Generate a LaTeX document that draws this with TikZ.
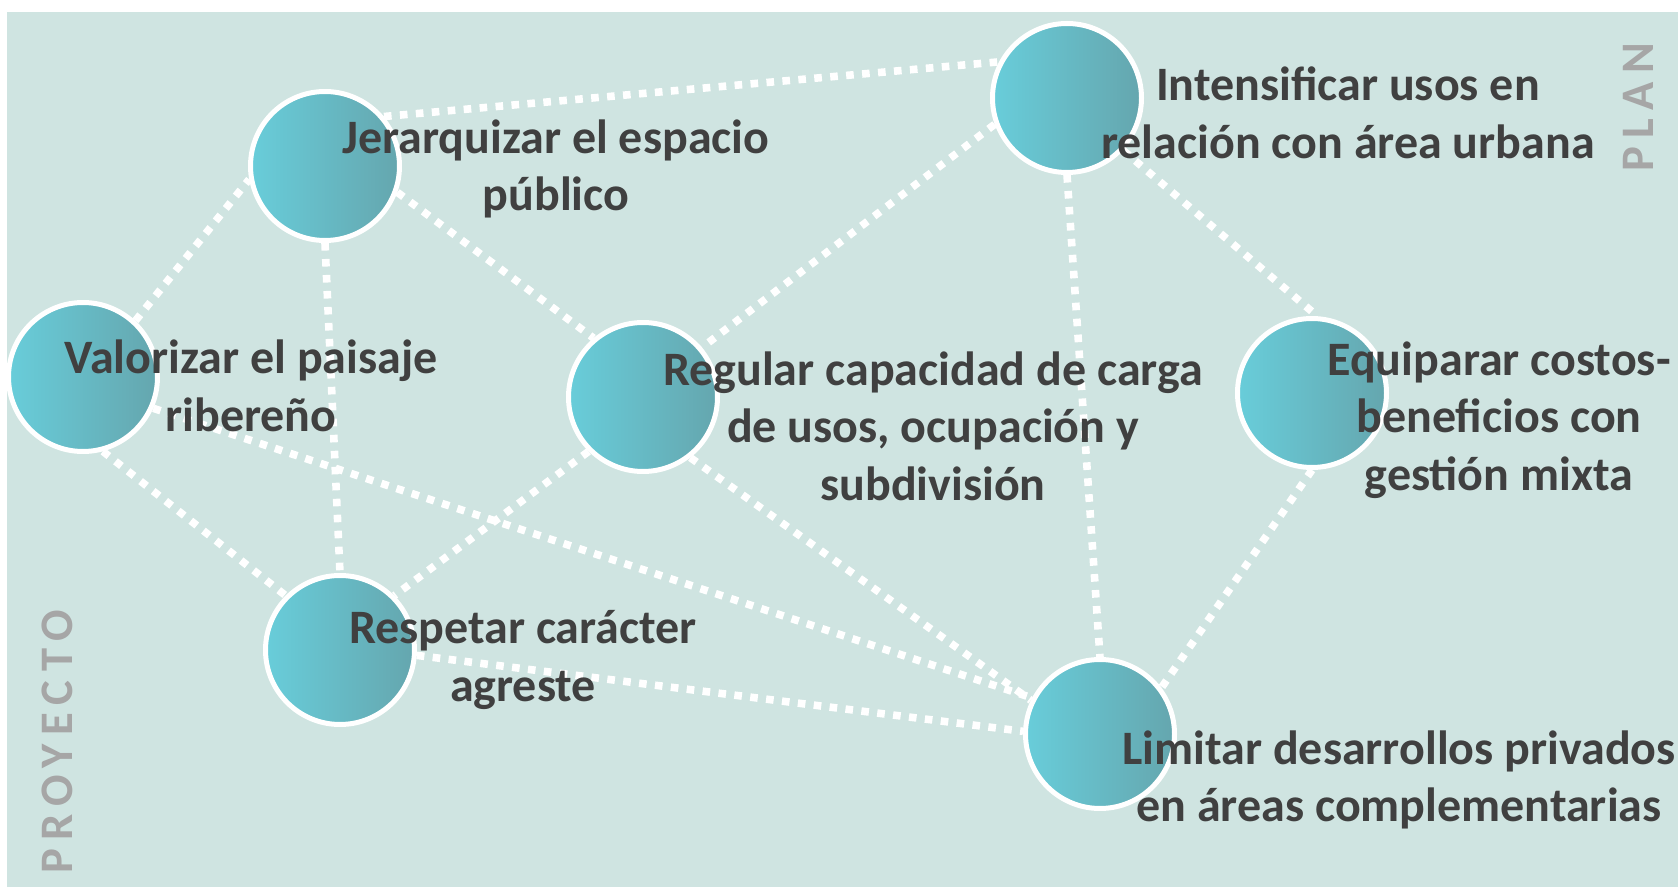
\documentclass[tikz,border=0pt]{standalone}
\usepackage{fontspec}
\setmainfont{Carlito}
\newfontfamily\spacedfont[LetterSpace=18]{Carlito}
\definecolor{bgc}{RGB}{207,228,225}
\definecolor{cL}{RGB}{104,205,218}
\definecolor{cR}{RGB}{101,166,174}
\definecolor{txt}{RGB}{64,64,64}
\definecolor{sidec}{RGB}{166,166,166}
\pgfdeclarelayer{edgelayer}
\pgfsetlayers{edgelayer,main}
\tikzset{
  goal/.style={circle, inner sep=0pt, minimum size=74.5pt, draw=white, line width=2.5pt, left color=cL, right color=cR},
  link/.style={draw=white, line width=3.8pt, dash pattern=on 3.8pt off 4.2pt},
  lbl/.style={align=center, text=txt, font=\fontsize{24}{28.8}\selectfont\bfseries, inner sep=0pt},
  side/.style={text=sidec, rotate=90, font=\spacedfont\fontsize{23.3}{28.3}\selectfont\bfseries, inner sep=0pt}
}
\begin{document}
\begin{tikzpicture}[x=0.5pt,y=-0.5pt]
\useasboundingbox (0,0) rectangle (1678,887);
\begin{pgfonlayer}{edgelayer}
  \fill[bgc] (7,12) rectangle (1678,887);
\end{pgfonlayer}
% circles
\node[goal] (J) at (325,166) {};
\node[goal] (I) at (1067,98) {};
\node[goal] (V) at (83,377) {};
\node[goal] (R) at (643,397) {};
\node[goal] (E) at (1312,393) {};
\node[goal] (P) at (340,650) {};
\node[goal] (L) at (1100,734) {};
% connectors
\begin{pgfonlayer}{edgelayer}
  \draw[link] (J.40) -- (I.152);
  \draw[link] (V.47) -- (J.190);
  \draw[link] (J.270) -- (P.90);
  \draw[link] (J.340) -- (R.130);
  \draw[link] (I.200) -- (R.40);
  \draw[link] (I.270) -- (L.90);
  \draw[link] (I.317) -- (E.86);
  \draw[link] (V.285) -- (P.135);
  \draw[link] (V.336) -- (L.152);
  \draw[link] (R.308) -- (L.154);
  \draw[link] (R.225) -- (P.45);
  \draw[link] (P.356) -- (L.178);
  \draw[link] (E.270) -- (L.37);
\end{pgfonlayer}
% labels
\node[lbl] (tJ) at (556,169) {Jerarquizar el espacio\\público};
\node[lbl] (tI) at (1348,113) {Intensificar usos en\\relación con área urbana};
\node[lbl] (tV) at (251,386) {Valorizar el paisaje\\ribereño};
\node[lbl] (tR) at (933,426) {Regular capacidad de carga\\de usos, ocupación y\\subdivisión};
\node[lbl] (tE) at (1499,420) {Equiparar costos-\\beneficios con\\gestión mixta};
\node[lbl] (tP) at (523,660) {Respetar carácter\\agreste};
\node[lbl] (tL) at (1399,780) {Limitar desarrollos privados\\en áreas complementarias};
\node[side] (plan) at (1638,107) {PLAN};
\node[side] (proy) at (57,742) {PROYECTO};
\end{tikzpicture}
\end{document}
